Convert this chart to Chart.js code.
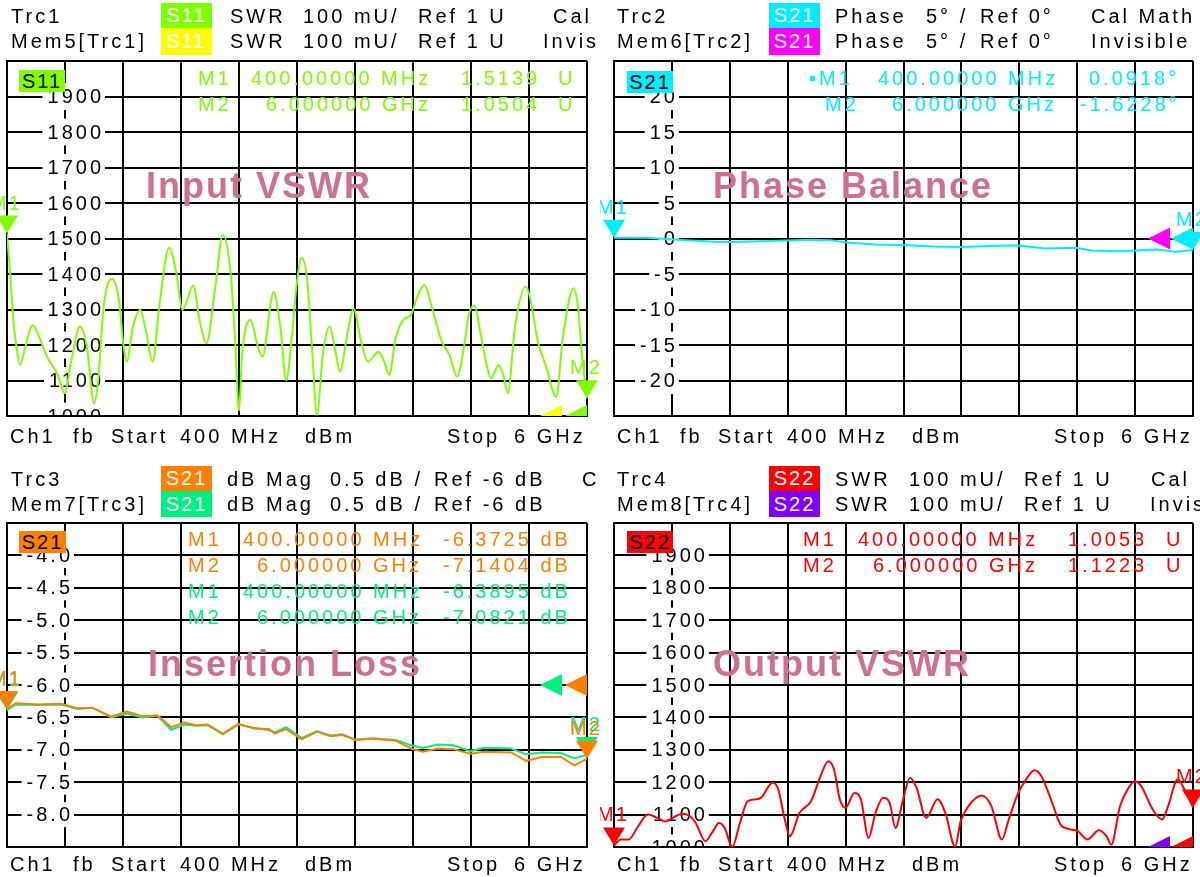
<!DOCTYPE html>
<html><head><meta charset="utf-8">
<script src="https://cdn.jsdelivr.net/npm/chart.js@4.4.1/dist/chart.umd.min.js"></script>
<style>
html,body{margin:0;padding:0;background:#fff;width:1200px;height:877px;overflow:hidden;}
#wrap{position:relative;width:1200px;height:877px;overflow:hidden;}
canvas{position:absolute;}
.t{position:absolute;font-family:"Liberation Sans",Arial,sans-serif;font-size:20px;letter-spacing:3px;line-height:20px;transform:translateY(-50%);white-space:pre;z-index:5;}
.b{position:absolute;font-family:"Liberation Sans",Arial,sans-serif;font-size:20px;letter-spacing:2px;text-align:center;z-index:5;white-space:pre;}
.ttl{position:absolute;font-family:"Liberation Sans",Arial,sans-serif;font-size:36px;font-weight:bold;letter-spacing:2px;color:#cd7091;line-height:36px;transform:translateY(-50%);white-space:pre;z-index:6;}
</style></head><body><div id="wrap"></div>
<script>
// ---------------- DATA ----------------
const s11Freq = [400,426,463,489,526,574,648,704,778,890,956,1019,1105,1168,1242,1279,1335,1416,1483,1520,1557,1613,1687,1743,1806,1872,1965,2032,2095,2199,2262,2325,2410,2484,2558,2603,2640,2670,2751,2818,2866,2974,3041,3096,3152,3196,3245,3300,3345,3393,3449,3515,3578,3615,3690,3745,3819,3886,3986,4042,4090,4153,4227,4301,4357,4431,4505,4598,4672,4746,4821,4858,4913,4969,5025,5073,5147,5192,5236,5303,5407,5451,5525,5600,5703,5766,5870,5915,5952,6000];
const s11Swr = [1514,1416,1266,1200,1144,1191,1256,1228,1172,1116,1064,1153,1252,1200,1036,1097,1313,1386,1322,1210,1153,1247,1299,1238,1153,1313,1474,1407,1299,1367,1266,1205,1360,1510,1407,1210,1014,1172,1271,1200,1167,1349,1247,1101,1228,1369,1446,1379,1191,1003,1172,1252,1172,1125,1238,1303,1210,1153,1181,1153,1116,1219,1271,1285,1332,1369,1303,1210,1172,1111,1210,1285,1311,1238,1153,1106,1144,1116,1064,1247,1365,1332,1210,1144,1054,1219,1360,1303,1172,1050];

const phaseFreq = [400,708,968,1377,1525,1822,2305,2491,2676,2936,3233,3493,3753,3976,4273,4422,4570,4867,5016,5276,5461,5647,5833,6000];
const phaseDeg = [0.09,0.1,-0.14,-0.47,-0.5,-0.37,-0.19,-0.23,-0.6,-0.84,-0.94,-1.12,-1.2,-1.08,-0.94,-1.17,-1.4,-1.3,-1.68,-1.78,-1.68,-1.54,-1.87,-1.62];

const ilFreq = [400,482,704,927,1075,1223,1409,1557,1705,1854,1984,2113,2225,2336,2484,2633,2781,2929,2985,3096,3244,3393,3523,3634,3764,3931,4153,4301,4413,4561,4709,4876,5006,5266,5414,5562,5748,5878,6000];
const ilTrc3 = [-6.37,-6.28,-6.30,-6.29,-6.36,-6.35,-6.49,-6.41,-6.48,-6.47,-6.65,-6.58,-6.62,-6.61,-6.75,-6.60,-6.67,-6.68,-6.75,-6.68,-6.84,-6.72,-6.79,-6.77,-6.85,-6.83,-6.86,-6.98,-7.03,-6.98,-6.99,-7.06,-7.03,-7.04,-7.17,-7.11,-7.11,-7.24,-7.14];
const ilMem7 = [-6.39,-6.30,-6.31,-6.30,-6.37,-6.35,-6.50,-6.44,-6.50,-6.48,-6.69,-6.61,-6.63,-6.62,-6.76,-6.61,-6.66,-6.70,-6.73,-6.65,-6.82,-6.71,-6.78,-6.76,-6.84,-6.82,-6.85,-6.93,-6.97,-6.92,-6.93,-7.02,-6.97,-6.98,-7.07,-7.04,-7.05,-7.13,-7.08];

const s22Freq = [400,467,541,634,727,820,894,968,1061,1135,1191,1284,1358,1414,1470,1544,1618,1692,1767,1822,1934,1989,2045,2101,2194,2305,2398,2472,2528,2584,2639,2725,2788,2862,2929,3003,3066,3122,3196,3263,3326,3419,3530,3605,3698,3753,3828,3958,4050,4151,4218,4310,4385,4466,4533,4626,4719,4793,4886,4979,5090,5164,5209,5294,5369,5436,5499,5610,5703,5759,5852,5926,6000];
const s22Swr = [1005,1023,1023,1064,1100,1090,1079,1090,1103,1095,1074,1018,1049,1074,1059,1000,1074,1141,1147,1152,1198,1178,1095,1033,1105,1141,1219,1265,1239,1147,1121,1167,1147,1028,1105,1152,1136,1059,1147,1214,1183,1090,1147,1105,1002,1079,1126,1159,1126,1023,1085,1167,1208,1237,1219,1147,1069,1056,1049,1023,1052,1033,1007,1126,1178,1203,1188,1116,1085,1126,1208,1172,1122];

// tick labels (shown inside the plot)
const swrTickLabels = ['1900','1800','1700','1600','1500','1400','1300','1200','1100','1000'];
const swrTickValues = [1900,1800,1700,1600,1500,1400,1300,1200,1100,1000];
const phaseTickLabels = ['20','15','10','5','0','-5','-10','-15','-20'];
const phaseTickValues = [20,15,10,5,0,-5,-10,-15,-20];
const ilTickLabels = ['-4.0','-4.5','-5.0','-5.5','-6.0','-6.5','-7.0','-7.5','-8.0'];
const ilTickValues = [-4.0,-4.5,-5.0,-5.5,-6.0,-6.5,-7.0,-7.5,-8.0];

// ---------------- LAYOUT / HELPERS ----------------
const FONT = '"Liberation Sans", Arial, sans-serif';
const wrap = document.getElementById('wrap');
const G = '#80ff00', Y = '#ffff00', C = '#00eeff', M = '#ff00ff', O = '#ff8000', SG = '#00f080', R = '#ff0000', P = '#8000ff';

function txt(x, y, s, color){
  const d = document.createElement('div'); d.className = 't'; d.textContent = s;
  d.style.left = x + 'px'; d.style.top = y + 'px'; d.style.color = color || '#000';
  wrap.appendChild(d);
}
function badge(x, y, w, h, bg, s, fg){
  const d = document.createElement('div'); d.className = 'b'; d.textContent = s;
  Object.assign(d.style, {left:x+'px', top:y+'px', width:w+'px', height:h+'px', lineHeight:h+'px', background:bg, color:fg});
  wrap.appendChild(d);
}
function title(x, y, s){
  const d = document.createElement('div'); d.className = 'ttl'; d.textContent = s;
  d.style.left = x + 'px'; d.style.top = y + 'px'; wrap.appendChild(d);
}

const xGrid = []; for (let k = 0; k <= 10; k++) xGrid.push(400 + 560 * k);

function pts(xs, ys){ return xs.map((f, i) => ({x: f, y: ys[i]})); }

function panel(o){
  const c = document.createElement('canvas');
  c.width = o.w; c.height = o.h;
  Object.assign(c.style, {left:o.x+'px', top:o.y+'px', width:o.w+'px', height:o.h+'px'});
  wrap.appendChild(c);
  const yGrid = []; for (let k = 0; k <= 10; k++) yGrid.push(o.ymin + (o.ymax - o.ymin) * k / 10);

  const labelPlugin = {
    id: 'ylab',
    beforeDatasetsDraw(chart){
      const {ctx, chartArea:a, scales} = chart;
      ctx.save();
      ctx.beginPath(); ctx.rect(a.left + 1, a.top + 1, a.right - a.left - 2, a.bottom - a.top - 2); ctx.clip();
      ctx.font = '20px ' + FONT; ctx.letterSpacing = '3px';
      ctx.textBaseline = 'middle'; ctx.textAlign = 'left';
      const xr = scales.x.getPixelForValue(960) + o.labDx;
      o.tickValues.forEach((v, i) => {
        const s = o.tickLabels[i];
        const w = ctx.measureText(s).width - 3;
        const py = scales.y.getPixelForValue(v);
        ctx.fillStyle = '#fff'; ctx.fillRect(xr - w - 5, py - o.bh / 2, w + 9, o.bh);
        ctx.fillStyle = '#000'; ctx.fillText(s, xr - w, py + 1);
      });
      ctx.restore();
    }
  };
  const markerPlugin = {
    id: 'mk',
    afterDatasetsDraw(chart){
      const {ctx, chartArea:a, scales} = chart;
      // reference-level arrows (clipped)
      ctx.save();
      ctx.beginPath(); ctx.rect(a.left, a.top, a.right - a.left, a.bottom - a.top); ctx.clip();
      o.refs.forEach(r => {
        const py = scales.y.getPixelForValue(r.value);
        const xt = a.right + r.dx;
        ctx.beginPath(); ctx.moveTo(xt, py); ctx.lineTo(xt + 22, py - 11); ctx.lineTo(xt + 22, py + 11); ctx.closePath();
        ctx.fillStyle = r.color; ctx.fill();
      });
      ctx.restore();
      // markers M1 / M2
      ctx.save();
      ctx.font = '20px ' + FONT; ctx.letterSpacing = '2px';
      ctx.textAlign = 'center'; ctx.textBaseline = 'alphabetic';
      o.markers.forEach(m => {
        const d = chart.data.datasets[m.ds].data;
        [[d[0], 'M1'], [d[d.length - 1], 'M2']].forEach(([p, lab]) => {
          const px = scales.x.getPixelForValue(p.x), py = scales.y.getPixelForValue(p.y);
          ctx.beginPath(); ctx.moveTo(px, py); ctx.lineTo(px - 11, py - 18); ctx.lineTo(px + 11, py - 18); ctx.closePath();
          ctx.fillStyle = m.color; ctx.fill();
          ctx.fillText(lab, px - 1, py - 24);
        });
      });
      ctx.restore();
    }
  };

  const axisCommon = {
    type: 'linear',
    ticks: {display: false},
    grid: {color: '#000', lineWidth: 2, drawTicks: false},
    border: {display: true, color: '#000', width: 2},
  };
  new Chart(c, {
    type: 'line',
    data: {datasets: o.datasets.map(d => ({
      data: d.data, borderColor: d.color, borderWidth: 2, pointRadius: 0,
      cubicInterpolationMode: d.smooth ? 'monotone' : 'default', tension: 0, fill: false
    }))},
    options: {
      responsive: false, animation: false, events: [],
      layout: {padding: o.pad},
      plugins: {legend: {display: false}, tooltip: {enabled: false}},
      scales: {
        x: Object.assign({}, axisCommon, {min: 400, max: 6000,
          afterBuildTicks: s => { s.ticks = xGrid.map(v => ({value: v})); },
          afterFit: s => { s.height = 0; }}),
        y: Object.assign({}, axisCommon, {min: o.ymin, max: o.ymax,
          afterBuildTicks: s => { s.ticks = yGrid.map(v => ({value: v})); },
          afterFit: s => { s.width = 0; }})
      }
    },
    plugins: [labelPlugin, markerPlugin]
  });
}

// ---------------- PANELS ----------------
panel({x:0, y:0, w:600, h:440, pad:{left:7, right:13, top:61, bottom:24},
  ymin:1000, ymax:2000, tickLabels:swrTickLabels, tickValues:swrTickValues, labDx:36, bh:27,
  datasets:[{data:pts(s11Freq, s11Swr), color:G, smooth:true}],
  markers:[{ds:0, color:G}],
  refs:[{value:1000, dx:-47, color:Y}, {value:1000, dx:-22, color:G}]});

panel({x:600, y:0, w:600, h:440, pad:{left:14, right:7, top:61, bottom:24},
  ymin:-25, ymax:25, tickLabels:phaseTickLabels, tickValues:phaseTickValues, labDx:3, bh:27,
  datasets:[{data:pts(phaseFreq, phaseDeg), color:C, smooth:false}],
  markers:[{ds:0, color:C}],
  refs:[{value:0, dx:-45, color:M}, {value:0, dx:-22, color:C}]});

panel({x:0, y:440, w:600, h:437, pad:{left:7, right:13, top:83, bottom:30},
  ymin:-8.5, ymax:-3.5, tickLabels:ilTickLabels, tickValues:ilTickValues, labDx:5, bh:25,
  datasets:[{data:pts(ilFreq, ilTrc3), color:O, smooth:false}, {data:pts(ilFreq, ilMem7), color:SG, smooth:false}],
  markers:[{ds:1, color:SG}, {ds:0, color:O}],
  refs:[{value:-6, dx:-47, color:SG}, {value:-6, dx:-22, color:O}]});

panel({x:600, y:440, w:600, h:437, pad:{left:14, right:7, top:83, bottom:30},
  ymin:1000, ymax:2000, tickLabels:swrTickLabels, tickValues:swrTickValues, labDx:33, bh:25,
  datasets:[{data:pts(s22Freq, s22Swr), color:R, smooth:true}],
  markers:[{ds:0, color:R}],
  refs:[{value:1000, dx:-45, color:P}, {value:1000, dx:-22, color:R}]});

// ---------------- TEXT ----------------
// top-left header
txt(11, 16, 'Trc1'); badge(161, 3, 51, 25, G, 'S11', '#fff');
txt(230, 16, 'SWR'); txt(303, 16, '100 mU/'); txt(418, 16, 'Ref 1 U'); txt(553, 16, 'Cal');
txt(11, 41, 'Mem5[Trc1]'); badge(161, 28, 51, 27, Y, 'S11', '#fff');
txt(230, 41, 'SWR'); txt(303, 41, '100 mU/'); txt(418, 41, 'Ref 1 U'); txt(543, 41, 'Invis');
// top-right header
txt(617, 16, 'Trc2'); badge(769, 3, 51, 25, C, 'S21', '#fff');
txt(835, 16, 'Phase'); txt(926, 16, '5° /'); txt(980, 16, 'Ref 0°'); txt(1091, 16, 'Cal Math');
txt(617, 41, 'Mem6[Trc2]'); badge(769, 28, 51, 27, M, 'S21', '#fff');
txt(835, 41, 'Phase'); txt(926, 41, '5° /'); txt(980, 41, 'Ref 0°'); txt(1091, 41, 'Invisible');
// bottom-left header
txt(11, 479, 'Trc3'); badge(161, 466, 51, 25, O, 'S21', '#fff');
txt(227, 479, 'dB Mag'); txt(330, 479, '0.5 dB /'); txt(434, 479, 'Ref -6 dB'); txt(582, 479, 'C');
txt(11, 504, 'Mem7[Trc3]'); badge(161, 491, 51, 26, SG, 'S21', '#fff');
txt(227, 504, 'dB Mag'); txt(330, 504, '0.5 dB /'); txt(434, 504, 'Ref -6 dB');
// bottom-right header
txt(617, 479, 'Trc4'); badge(769, 466, 51, 25, R, 'S22', '#fff');
txt(835, 479, 'SWR'); txt(909, 479, '100 mU/'); txt(1024, 479, 'Ref 1 U'); txt(1151, 479, 'Cal');
txt(617, 504, 'Mem8[Trc4]'); badge(769, 491, 51, 26, P, 'S22', '#fff');
txt(835, 504, 'SWR'); txt(909, 504, '100 mU/'); txt(1024, 504, 'Ref 1 U'); txt(1150, 504, 'Invis');

// footers
[[436, 0], [436, 607], [864, 0], [864, 607]].forEach(([yy, dx]) => {
  txt(10 + dx, yy, 'Ch1'); txt(73 + dx, yy, 'fb'); txt(111 + dx, yy, 'Start'); txt(180 + dx, yy, '400 MHz');
  txt(305 + dx, yy, 'dBm'); txt(447 + dx, yy, 'Stop'); txt(514 + dx, yy, '6 GHz');
});

// in-plot trace badges
badge(19, 70, 46, 22, G, 'S11', '#000');
badge(627, 71, 46, 22, C, 'S21', '#000');
badge(19, 531, 47, 22, O, 'S21', '#000');
badge(627, 531, 46, 22, R, 'S22', '#000');

// marker readouts
txt(198, 78, 'M1', G); txt(251, 78, '400.00000 MHz', G); txt(461, 78, '1.5139', G); txt(558, 78, 'U', G);
txt(198, 104, 'M2', G); txt(266, 104, '6.000000 GHz', G); txt(461, 104, '1.0504', G); txt(558, 104, 'U', G);

txt(809, 78, '▪M1', C); txt(878, 78, '400.00000 MHz', C); txt(1089, 78, '0.0918°', C);
txt(825, 104, 'M2', C); txt(892, 104, '6.000000 GHz', C); txt(1080, 104, '-1.6228°', C);

txt(188, 539, 'M1', O); txt(243, 539, '400.00000 MHz', O); txt(443, 539, '-6.3725 dB', O);
txt(188, 565, 'M2', O); txt(257, 565, '6.000000 GHz', O); txt(443, 565, '-7.1404 dB', O);
txt(188, 591, 'M1', SG); txt(243, 591, '400.00000 MHz', SG); txt(443, 591, '-6.3895 dB', SG);
txt(188, 617, 'M2', SG); txt(257, 617, '6.000000 GHz', SG); txt(443, 617, '-7.0821 dB', SG);

txt(803, 539, 'M1', R); txt(858, 539, '400.00000 MHz', R); txt(1068, 539, '1.0053', R); txt(1166, 539, 'U', R);
txt(803, 565, 'M2', R); txt(873, 565, '6.000000 GHz', R); txt(1068, 565, '1.1223', R); txt(1166, 565, 'U', R);

// panel titles
title(146, 186, 'Input VSWR');
title(713, 186, 'Phase Balance');
title(148, 664, 'Insertion Loss');
title(713, 664, 'Output VSWR');
</script>
</body></html>
